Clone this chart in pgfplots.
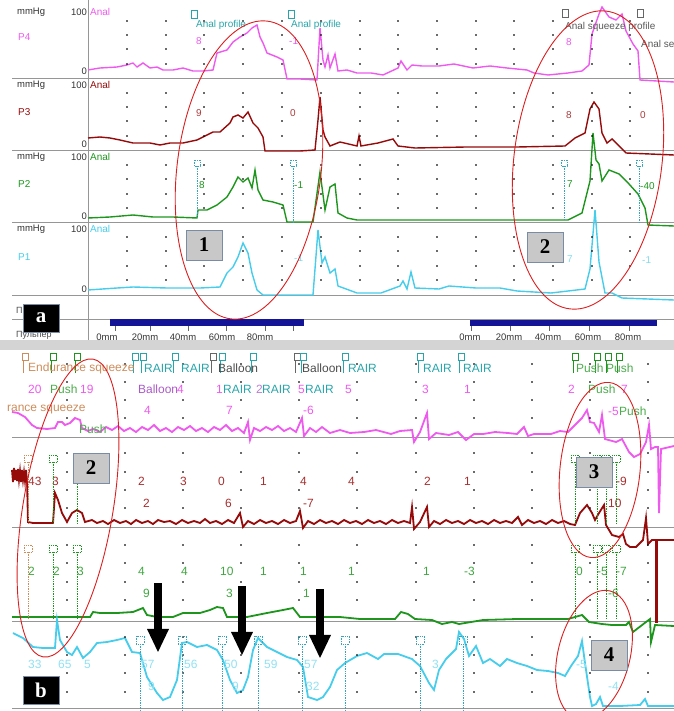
\documentclass[border=0pt]{standalone}
\usepackage{pgfplots}
\pgfplotsset{compat=1.18}
\usepackage{fontspec}
\setmainfont{Liberation Sans}
\newfontfamily\serifb{Liberation Serif}
\definecolor{pinkT}{RGB}{238,90,238}
\definecolor{redT}{RGB}{150,10,10}
\definecolor{greenT}{RGB}{30,150,30}
\definecolor{cyanT}{RGB}{70,205,235}
\definecolor{tealT}{RGB}{40,165,170}
\definecolor{tanT}{RGB}{205,140,90}
\definecolor{purpT}{RGB}{170,90,200}
\definecolor{sepgray}{RGB}{150,150,150}
\definecolor{ellred}{RGB}{220,30,30}
\definecolor{barblue}{RGB}{20,20,150}
\definecolor{boxgray}{RGB}{200,200,200}
\definecolor{boxedge}{RGB}{120,140,165}
\definecolor{bandgray}{RGB}{212,212,212}
\tikzset{
 la/.style={inner sep=0pt, anchor=west, font=\fontsize{10}{10}\selectfont},
 lb/.style={inner sep=0pt, anchor=west, font=\fontsize{12}{12}\selectfont},
 nbox/.style={fill=boxgray, draw=boxedge, line width=0.8bp, minimum width=36bp, minimum height=30bp, inner sep=0pt, font=\serifb\bfseries\fontsize{21}{21}\selectfont},
 pbox/.style={fill=black, draw=boxedge, minimum width=36bp, minimum height=28bp, inner sep=0pt, text=white, font=\serifb\bfseries\fontsize{21}{21}\selectfont},
 ell/.style={draw=ellred, line width=0.9bp},
 mk/.style={densely dotted, line width=0.7bp},
}
\begin{document}
\begin{tikzpicture}
\begin{axis}[scale only axis, width=674bp, height=711bp,
  xmin=0, xmax=674, ymin=0, ymax=711, y dir=reverse,
  axis lines=none, clip=true]
\coordinate (SW) at (axis cs:0,711);
\coordinate (NE) at (axis cs:674,0);
\coordinate (O) at (axis cs:0,0);
% ---------------- frames ----------------
\draw[sepgray, line width=0.8bp] (axis cs:88,0) -- (axis cs:88,340);
\pgfplotsinvokeforeach{78,150,222,295,319,437,527,621,708}{\draw[sepgray, line width=0.9bp] (axis cs:12,#1) -- (axis cs:674,#1);}
\fill[bandgray] (axis cs:0,340) rectangle (axis cs:674,350);
% grid dots panel a
\pgfplotsinvokeforeach{127,166,204,243,282,321,360,398,437,476,514,553,592,630}{
\addplot[only marks, mark=*, mark size=0.55bp, draw=none, fill=black!75, mark options={draw=none}] coordinates {(#1,21)(#1,35)(#1,49)(#1,64)(#1,93)(#1,107)(#1,121)(#1,136)(#1,165)(#1,179)(#1,194)(#1,208)(#1,237)(#1,251)(#1,266)(#1,280)};}
% grid dots panel b
\pgfplotsinvokeforeach{67,125,183,241,299,357,416,474,532,590,648}{
\addplot[only marks, mark=*, mark size=0.55bp, draw=none, fill=black!75, mark options={draw=none}] coordinates {(#1,364)(#1,382)(#1,400)(#1,418)(#1,453)(#1,472)(#1,490)(#1,508)(#1,545)(#1,563)(#1,582)(#1,600)(#1,637)(#1,655)(#1,673)(#1,692)};}
% blue bars
\fill[barblue] (axis cs:110,319) rectangle (axis cs:304,326);
\fill[barblue] (axis cs:470,320) rectangle (axis cs:657,326);
\pgfplotsinvokeforeach{115,150,188,226,265,293,471,510,549,589,629}{\draw[black!60, line width=0.6bp] (axis cs:#1,326) -- (axis cs:#1,331);}
% traces panel a
\addplot[pinkT, line width=1.4bp] coordinates {(88,70)(100,68)(117,67)(127,65)(133,63)(137,67)(143,63)(150,68)(157,67)(163,70)(173,70)(183,68)(193,71)(203,71)(213,70)(217,53)(227,50)(233,42)(240,37)(247,33)(252,28)(257,25)(260,37)(263,43)(267,53)(277,57)(283,60)(287,79)(300,79)(317,80)(320,28)(323,60)(325,67)(328,55)(330,68)(335,54)(338,71)(347,70)(357,73)(371,73)(383,75)(398,68)(401,61)(407,70)(412,65)(422,66)(439,66)(454,64)(473,68)(490,66)(507,68)(527,70)(534,73)(548,75)(568,73)(582,71)(589,65)(592,34)(599,14)(602,7)(609,17)(616,20)(622,14)(626,31)(633,44)(638,51)(640,80)(674,82)};
\addplot[redT, line width=1.4bp] coordinates {(88,138)(100,137)(110,138)(120,140)(133,143)(150,143)(160,145)(170,143)(183,143)(197,140)(207,135)(213,132)(220,132)(230,123)(233,117)(238,115)(243,118)(248,112)(253,123)(258,128)(263,137)(265,151)(300,151)(315,150)(318,120)(320,97)(323,130)(325,137)(330,146)(340,142)(357,146)(359,136)(361,146)(378,143)(393,139)(398,146)(415,148)(466,147)(517,147)(565,146)(575,138)(585,133)(590,109)(594,102)(599,109)(602,133)(607,143)(612,139)(626,153)(674,155)};
\addplot[greenT, line width=1.4bp] coordinates {(88,218)(110,217)(133,215)(153,217)(173,217)(197,218)(198,210)(207,210)(217,205)(227,197)(233,187)(238,177)(243,182)(248,178)(252,188)(255,170)(258,190)(263,200)(273,202)(283,205)(287,222)(313,222)(320,172)(325,210)(330,187)(335,184)(338,213)(347,218)(357,220)(398,220)(466,220)(534,220)(568,220)(582,213)(590,181)(593,133)(596,160)(599,164)(602,181)(609,170)(619,174)(629,184)(638,194)(645,208)(648,225)(674,226)};
\addplot[cyanT, line width=1.4bp] coordinates {(88,290)(117,288)(133,287)(167,288)(200,288)(220,287)(227,273)(233,267)(238,257)(243,243)(248,253)(252,273)(257,290)(263,295)(313,295)(318,230)(322,263)(325,257)(330,273)(335,269)(338,286)(357,293)(381,293)(400,286)(403,281)(407,289)(411,272)(415,288)(439,289)(449,286)(476,288)(500,288)(517,291)(551,293)(585,289)(590,269)(595,210)(599,262)(605,293)(612,293)(622,298)(674,300)};
% traces panel b
\addplot[pinkT, line width=1.8bp] coordinates {(12,412)(18,413)(25,417)(32,425)(37,428)(47,429)(55,428)(58,422)(62,422)(65,425)(70,423)(75,418)(80,420)(82,428)(88,431)(93,429)(100,432)(106,427)(112,430)(118,426)(124,431)(130,428)(136,432)(142,427)(148,430)(154,425)(160,431)(166,428)(172,432)(178,427)(184,430)(190,426)(196,431)(202,428)(208,432)(214,427)(220,430)(226,425)(232,431)(238,428)(244,433)(248,422)(250,440)(254,428)(260,431)(266,427)(272,430)(278,426)(284,431)(290,428)(296,432)(302,418)(304,436)(310,428)(316,432)(322,427)(330,433)(340,430)(350,433)(364,432)(376,430)(391,434)(400,431)(412,430)(414,442)(420,432)(427,413)(429,439)(436,433)(449,435)(458,432)(466,440)(474,434)(483,434)(495,432)(508,433)(517,434)(524,427)(528,436)(534,434)(551,434)(560,431)(568,432)(575,425)(582,418)(587,410)(590,422)(594,423)(599,432)(602,415)(605,439)(616,442)(622,439)(629,452)(634,457)(640,454)(646,442)(649,425)(651,449)(655,447)(658,447)(659,513)(661,449)(674,446)};
\addplot[redT, line width=1.8bp] coordinates {(12,470)(13,482)(14,468)(15,480)(16,470)(17,481)(18,469)(19,480)(20,471)(21,482)(22,470)(23,480)(24,472)(25,481)(26,470)(27,480)(28,522)(33,523)(53,523)(55,493)(58,500)(62,513)(67,522)(72,513)(77,510)(82,513)(85,522)(92,520)(97,523)(103,521)(108,524)(114,520)(120,523)(126,521)(131,524)(136,520)(142,523)(148,521)(153,524)(158,520)(164,522)(170,521)(176,524)(182,520)(188,523)(194,521)(200,523)(205,519)(210,523)(216,521)(222,524)(228,520)(234,523)(240,513)(243,527)(248,521)(254,524)(260,520)(266,523)(272,521)(278,524)(284,520)(290,523)(296,521)(300,511)(303,528)(308,521)(314,524)(320,520)(326,523)(332,521)(338,524)(344,520)(350,523)(356,521)(362,524)(368,520)(374,523)(380,521)(386,524)(392,520)(398,523)(404,521)(410,523)(412,507)(414,529)(420,522)(427,507)(429,527)(434,521)(440,524)(446,520)(452,523)(458,521)(464,524)(470,520)(476,523)(482,521)(488,524)(494,520)(500,523)(506,521)(512,523)(518,517)(522,525)(528,520)(534,523)(540,521)(546,524)(552,520)(558,523)(564,521)(570,524)(575,525)(580,513)(587,505)(592,513)(595,520)(599,513)(604,505)(606,525)(612,535)(619,537)(623,534)(626,544)(630,547)(636,547)(643,540)(646,518)(648,544)(652,540)(656,540)(656,622)(657,622)(657,540)(674,540)};
\addplot[greenT, line width=1.8bp] coordinates {(12,617)(50,617)(90,617)(93,612)(100,613)(117,613)(133,612)(143,608)(147,615)(157,617)(173,617)(183,613)(200,613)(210,610)(217,607)(223,608)(227,617)(247,617)(267,613)(283,610)(293,608)(300,617)(340,617)(360,619)(395,619)(401,612)(408,614)(415,619)(432,620)(442,624)(452,622)(459,624)(483,620)(517,619)(568,619)(582,615)(589,622)(602,624)(612,625)(626,625)(629,622)(633,632)(646,622)(650,619)(651,642)(655,625)(674,626)};
\addplot[cyanT, line width=1.8bp] coordinates {(13,633)(23,638)(33,647)(43,648)(55,648)(57,620)(60,640)(67,652)(72,655)(77,647)(83,658)(90,652)(97,643)(107,642)(117,640)(125,638)(132,652)(140,653)(147,677)(157,693)(163,700)(170,697)(177,680)(182,643)(187,642)(197,647)(207,645)(217,650)(223,660)(230,680)(237,693)(243,690)(248,677)(253,650)(258,638)(267,647)(277,652)(287,657)(297,660)(303,667)(308,697)(317,700)(323,697)(330,687)(337,670)(345,663)(357,656)(367,653)(378,659)(384,654)(398,654)(412,659)(420,666)(429,683)(434,690)(439,670)(446,659)(456,649)(459,632)(464,639)(469,656)(476,646)(483,663)(490,659)(500,666)(507,659)(517,663)(527,666)(537,670)(548,671)(558,673)(565,676)(571,666)(578,656)(582,641)(585,663)(590,697)(592,706)(596,704)(600,697)(603,706)(620,706)(640,705)(645,699)(648,706)(674,706)};
\end{axis}
% ---------------- annotations (same pixel frame as the axis) ----------------
\begin{scope}[shift={(O)}, x=1bp, y=-1bp]
% left labels panel a
\foreach \yy/\cc in {12/pinkT, 85/redT, 157/greenT, 229/cyanT}{
  \node[la, text=black!80, font=\fontsize{9.5}{9.5}\selectfont] at (17,\yy) {mmHg};
  \node[inner sep=0pt, anchor=east, text=black!80, font=\fontsize{9.5}{9.5}\selectfont] at (87,\yy) {100};
  \node[la, text=\cc] at (90,\yy) {Anal};
}
\node[la, text=pinkT] at (18,37) {P4};
\node[la, text=redT] at (18,112) {P3};
\node[la, text=greenT] at (18,184) {P2};
\node[la, text=cyanT] at (18,257) {P1};
\foreach \yy in {71,144,216,289}{\node[inner sep=0pt, anchor=east, text=black!80, font=\fontsize{9.5}{9.5}\selectfont] at (87,\yy) {0};}
\node[la, text=black!70, font=\fontsize{9}{9}\selectfont] at (16,310) {П};
\node[la, text=black!70, font=\fontsize{9}{9}\selectfont] at (16,335) {Пульпер};
\foreach \xx/\tt in {107/0mm,145/20mm,183/40mm,222/60mm,260/80mm,470/0mm,509/20mm,548/40mm,588/60mm,628/80mm}{
  \node[inner sep=0pt, text=black!80, font=\fontsize{9.5}{9.5}\selectfont] at (\xx,337) {\tt};}
% annotations panel a
\draw[tealT, line width=0.6bp] (191,10) rectangle (197,18);
\draw[tealT, line width=0.6bp] (288,10) rectangle (294,18);
\draw[black!60, line width=0.6bp] (562,9) rectangle (568,17);
\draw[black!60, line width=0.6bp] (637,9) rectangle (643,17);
\node[la, text=tealT] at (196,25) {Anal profile};
\node[la, text=tealT] at (291,25) {Anal profile};
\node[la, text=black!65] at (565,27) {Anal squeeze profile};
\node[la, text=black!65] at (641,44) {Anal se};
\node[la, text=pinkT] at (196,41) {8};
\node[la, text=pinkT] at (289,41) {-1};
\node[la, text=pinkT] at (566,42) {8};
\node[la, text=redT!80] at (196,113) {9};
\node[la, text=redT!80] at (290,113) {0};
\node[la, text=redT!80] at (566,115) {8};
\node[la, text=redT!80] at (640,115) {0};
\node[la, text=greenT] at (199,185) {8};
\node[la, text=greenT] at (294,185) {-1};
\node[la, text=greenT] at (567,184) {7};
\node[la, text=greenT] at (640,186) {-40};
\node[la, text=cyanT!70] at (294,258) {-1};
\node[la, text=cyanT!70] at (567,259) {7};
\node[la, text=cyanT!70] at (642,260) {-1};
\foreach \xx/\ybot in {197/218,293/222,564/220,639/222}{
  \draw[mk, cyanT!80!black] (\xx,166) -- (\xx,\ybot);
  \draw[mk, cyanT!80!black] (\xx-3,160) rectangle (\xx+3,166);}
% event icons panel b
\foreach \xx/\cc in {25/tanT,53/greenT,77/greenT,135/tealT,143/tealT,175/tealT,213/black!60,222/tealT,253/tealT,297/black!60,303/tealT,345/tealT,420/tealT,461/tealT,575/greenT,597/greenT,608/greenT,619/greenT}{
  \draw[\cc, line width=0.6bp] (\xx-3,353) rectangle (\xx+3,360);
  \draw[\cc, line width=0.6bp] (\xx-2,361) -- (\xx-2,373);}
\node[lb, text=tanT] at (28,368) {Endurance squeeze};
\node[lb, text=tealT] at (144,368) {RAIR};
\node[lb, text=tealT] at (181,368) {RAIR};
\node[lb, text=black!70] at (218,368) {Balloon};
\node[lb, text=black!70] at (302,368) {Balloon};
\node[lb, text=tealT] at (348,368) {RAIR};
\node[lb, text=tealT] at (423,368) {RAIR};
\node[lb, text=tealT] at (463,368) {RAIR};
\node[lb, text=greenT!80] at (576,368) {Push};
\node[lb, text=greenT!80] at (606,368) {Push};
\node[lb, text=pinkT] at (28,389) {20};
\node[lb, text=greenT!80] at (50,389) {Push};
\node[lb, text=pinkT] at (80,389) {19};
\node[lb, text=purpT] at (138,389) {Balloon};
\node[lb, text=pinkT] at (177,389) {4};
\node[lb, text=pinkT] at (216,389) {1};
\node[lb, text=tealT] at (223,389) {RAIR};
\node[lb, text=purpT!80] at (256,389) {2};
\node[lb, text=tealT] at (262,389) {RAIR};
\node[lb, text=pinkT] at (298,389) {5};
\node[lb, text=tealT] at (305,389) {RAIR};
\node[lb, text=pinkT] at (345,389) {5};
\node[lb, text=pinkT] at (422,389) {3};
\node[lb, text=pinkT] at (464,389) {1};
\node[lb, text=pinkT] at (568,389) {2};
\node[lb, text=greenT!80] at (588,389) {Push};
\node[lb, text=pinkT] at (621,389) {7};
\node[lb, text=tanT] at (7,410) {rance squeeze};
\node[lb, text=pinkT] at (144,410) {4};
\node[lb, text=pinkT] at (226,410) {7};
\node[lb, text=pinkT] at (303,410) {-6};
\node[lb, text=pinkT] at (608,411) {-5};
\node[lb, text=greenT!80] at (619,411) {Push};
\node[lb, text=greenT!80] at (79,429) {Push};
% P3 labels
\foreach \xx/\tt in {28/43,52/3,138/2,180/3,218/0,260/1,300/4,348/4,424/2,464/1,616/-9}{\node[lb, text=redT!85] at (\xx,481) {\tt};}
\foreach \xx/\tt in {143/2,225/6,303/-7,608/10}{\node[lb, text=redT!85] at (\xx,503) {\tt};}
% P2 labels
\foreach \xx/\tt in {28/2,53/2,77/3,138/4,181/4,220/10,260/1,300/1,348/1,423/1,464/-3,576/0,597/-5,616/-7}{\node[lb, text=greenT!85] at (\xx,571) {\tt};}
\foreach \xx/\tt in {143/9,226/3,303/1,608/-6}{\node[lb, text=greenT!85] at (\xx,593) {\tt};}
% P1 labels
\foreach \xx/\tt in {28/33,58/65,84/5,141/57,184/56,224/50,264/59,304/57,432/3,576/-5}{\node[lb, text=cyanT!60] at (\xx,664) {\tt};}
\foreach \xx/\tt in {148/9,232/9,306/32,608/-4}{\node[lb, text=cyanT!60] at (\xx,686) {\tt};}
% marker lines panel b
\foreach \xx/\cc in {28/tanT,53/greenT,77/greenT,575/greenT,597/greenT,606/greenT,616/greenT}{
  \draw[mk, \cc] (\xx,462) -- (\xx,524);
  \draw[mk, \cc] (\xx-4,455) rectangle (\xx+4,462);
  \draw[mk, \cc] (\xx,552) -- (\xx,619);
  \draw[mk, \cc] (\xx-4,545) rectangle (\xx+4,552);}
\foreach \xx in {140,182,222,258,302,345,420,463}{
  \draw[mk, cyanT!80!black] (\xx,644) -- (\xx,711);
  \draw[mk, cyanT!80!black] (\xx-4,636) rectangle (\xx+4,644);}
% arrows
\foreach \xx/\ya in {158/583,242/586,320/589}{
  \fill[black] (\xx-4,\ya) rectangle (\xx+4,\ya+46);
  \fill[black] (\xx-11,\ya+46) -- (\xx+11,\ya+46) -- (\xx,\ya+69) -- cycle;}
% ellipses
\begin{scope}
\clip (0,0) rectangle (674,711);
\foreach \cx/\cy/\rx/\ry/\rot in {249/170/72/150/-7, 588/160/74/150/-7, 68/508/45/151/-9.5, 600/470/40/88/-6, 594/655/36/66/-14}{
  \draw[ell, rotate around={\rot:(\cx,\cy)}] (\cx,\cy) ellipse [x radius=\rx, y radius=\ry];}
\end{scope}
% number boxes
\node[nbox] at (204,245) {1};
\node[nbox] at (545,247) {2};
\node[nbox] at (91,468) {2};
\node[nbox] at (594,472) {3};
\node[nbox] at (609,655) {4};
\node[pbox] at (41,318) {a};
\node[pbox] at (41,690) {b};
\end{scope}
\pgfresetboundingbox
\path[use as bounding box] (SW) rectangle (NE);
\end{tikzpicture}
\end{document}
